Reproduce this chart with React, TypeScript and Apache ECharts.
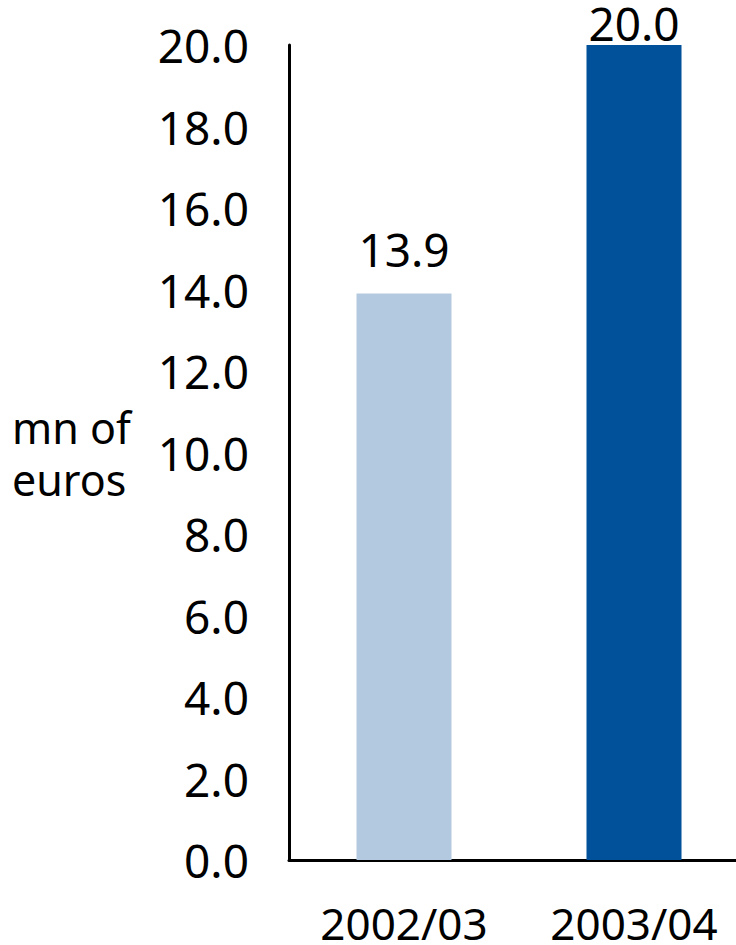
import React, { useEffect, useRef } from "react";
import * as echarts from "echarts";

const categories = ["2002/03", "2003/04"];
const values = [13.9, 20.0];
const barColors = ["#b3c9e0", "#00509a"];
const labelDistances = [27, 4];
const yTicks = { min: 0, max: 20, interval: 2 };
const unitLines = ["mn of", "euros"];

const FONT = "'Noto Sans', sans-serif";

export default function App() {
  const ref = useRef<HTMLDivElement>(null);
  useEffect(() => {
    if (!ref.current) return;
    const chart = echarts.init(ref.current, null, { renderer: "svg" });
    chart.setOption({
      animation: false,
      backgroundColor: "#ffffff",
      textStyle: { fontFamily: FONT },
      grid: { left: 289, top: 45, width: 460, height: 816, containLabel: false },
      xAxis: {
        type: "category",
        data: categories,
        axisLine: { show: true, lineStyle: { color: "#000", width: 3 } },
        axisTick: { show: false },
        axisLabel: {
          color: "#000",
          fontSize: 44,
          fontFamily: FONT,
          margin: 45,
          lineHeight: 36,
        },
      },
      yAxis: {
        type: "value",
        min: yTicks.min,
        max: yTicks.max,
        interval: yTicks.interval,
        axisLine: { show: true, lineStyle: { color: "#000", width: 3 } },
        axisTick: { show: false },
        splitLine: { show: false },
        axisLabel: {
          color: "#000",
          fontSize: 46,
          fontFamily: FONT,
          margin: 40,
          formatter: (v: number) => v.toFixed(1),
        },
      },
      graphic: unitLines.map((t, i) => ({
        type: "text",
        left: 12,
        top: 406 + i * 52,
        style: {
          text: t,
          fontSize: 43,
          fontFamily: FONT,
          fill: "#000",
          lineHeight: 40,
        },
      })),
      series: [
        {
          type: "bar",
          barWidth: 95,
          data: values.map((v, i) => ({
            value: v,
            itemStyle: { color: barColors[i] },
            label: { distance: labelDistances[i] },
          })),
          label: {
            show: true,
            position: "top",
            color: "#000",
            fontSize: 46,
            lineHeight: 36,
            fontFamily: FONT,
            formatter: (p: any) => Number(p.value).toFixed(1),
          },
        },
      ],
    });
    return () => chart.dispose();
  }, []);
  return (
    <div
      style={{
        position: "absolute",
        left: 0,
        top: 0,
        width: 736,
        height: 945,
        overflow: "hidden",
      }}
    >
      <div ref={ref} style={{ width: 760, height: 945 }} />
    </div>
  );
}
